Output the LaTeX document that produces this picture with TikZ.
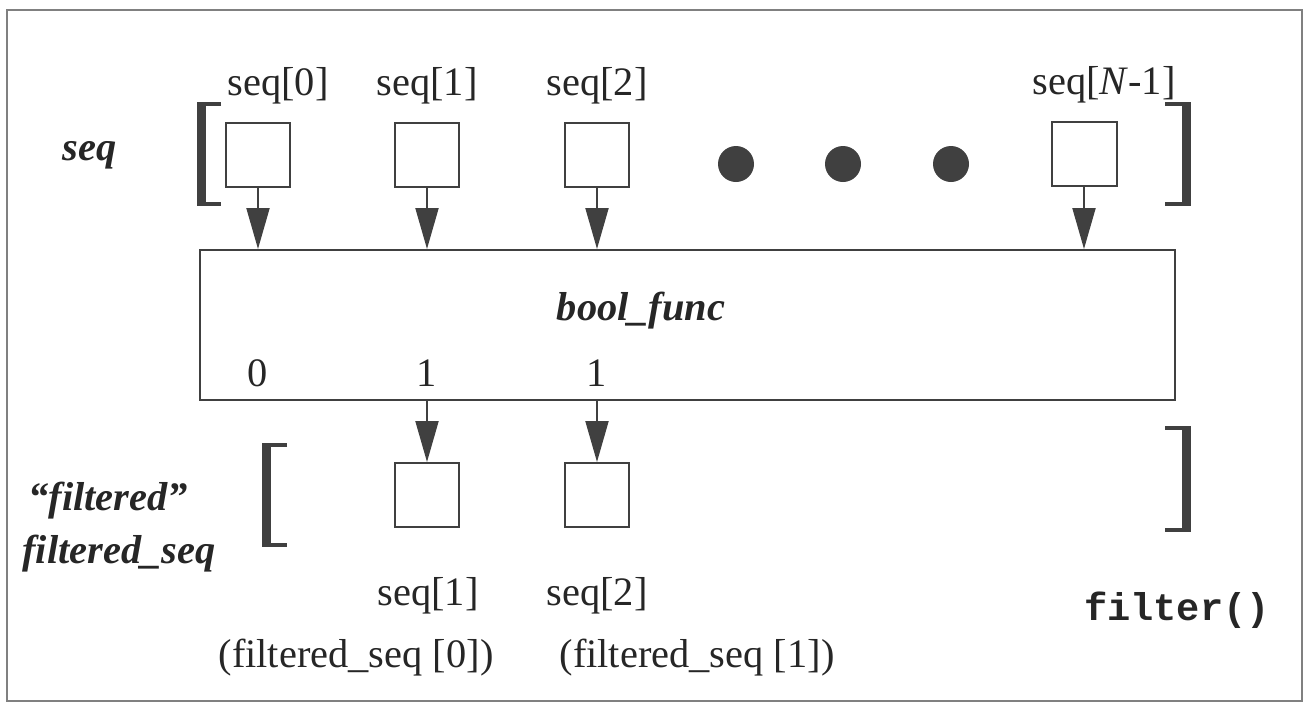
\documentclass[tikz,border=0pt]{standalone}
\usepackage{fontspec}
\setmainfont{Liberation Serif}
\setmonofont{Liberation Mono}
\usetikzlibrary{arrows.meta}

\begin{document}
\begin{tikzpicture}[x=0.02cm,y=-0.02cm]
\tikzstyle{elem}=[rectangle,draw=black!75,line width=0.04cm,minimum width=1.3cm,minimum height=1.28cm,inner sep=0pt]
\tikzstyle{lbl}=[anchor=base,inner sep=0pt,text=black!85,font=\fontsize{23}{27}\selectfont]
\tikzstyle{seqtitle}=[anchor=base west,inner sep=0pt,text=black!85,font=\fontsize{23}{27}\selectfont\bfseries\itshape]
\tikzstyle{arr}=[draw=black!75,line width=0.04cm,-{Triangle[length=0.82cm,width=0.46cm]}]
\tikzstyle{brack}=[draw=black!75,line width=0.18cm]
\tikzstyle{arm}=[draw=black!75,line width=0.08cm]
\tikzstyle{blob}=[circle,fill=black!75,minimum size=0.72cm,inner sep=0pt]
\useasboundingbox (0,0) rectangle (1306,704);
\draw[black!50,line width=0.04cm] (7,10) rectangle (1302,701);
\node [elem] (s0) at (258,155) {};
\node [elem] (s1) at (427,155) {};
\node [elem] (s2) at (597,155) {};
\node [elem] (sn) at (1084,154) {};
\node [blob] (d1) at (736,164) {};
\node [blob] (d2) at (843,164) {};
\node [blob] (d3) at (951,164) {};
\node [lbl] (l0) at (278,95) {seq[0]};
\node [lbl] (l1) at (427,95) {seq[1]};
\node [lbl] (l2) at (597,95) {seq[2]};
\node [lbl] (ln) at (1104,94) {seq[\textit{N}-1]};
\node [seqtitle] (seqname) at (62,160) {seq};
\node [rectangle,draw=black!75,line width=0.04cm,minimum width=19.5cm,minimum height=3cm] (func) at (687.5,325) {};
\node [lbl,font=\fontsize{23}{27}\selectfont\bfseries\itshape] (fname) at (641,320) {bool\_func};
\node [lbl] (o0) at (258,386) {0};
\node [lbl] (o1) at (427,386) {1};
\node [lbl] (o2) at (597,386) {1};
\node [elem] (r1) at (427,495) {};
\node [elem] (r2) at (597,495) {};
\draw [arr] (s0.south) -- (s0.south |- func.north);
\draw [arr] (s1.south) -- (s1.south |- func.north);
\draw [arr] (s2.south) -- (s2.south |- func.north);
\draw [arr] (sn.south) -- (sn.south |- func.north);
\draw [arr] (r1.north |- func.south) -- (r1.north);
\draw [arr] (r2.north |- func.south) -- (r2.north);
\draw [arm] (221,104) -- (201,104) (201,204) -- (221,204);
\draw [brack] (201,102) -- (201,206);
\draw [arm] (1165,104) -- (1186,104) (1186,204) -- (1165,204);
\draw [brack] (1186,102) -- (1186,206);
\draw [arm] (287,445) -- (266,445) (266,545) -- (287,545);
\draw [brack] (266,443) -- (266,547);
\draw [arm] (1165,428) -- (1186,428) (1186,530) -- (1165,530);
\draw [brack] (1186,426) -- (1186,532);
\node [seqtitle] (filt) at (28,510) {“filtered”};
\node [seqtitle] (fseq) at (22,563) {filtered\_seq};
\node [lbl] (b1) at (428,605) {seq[1]};
\node [lbl] (b2) at (597,605) {seq[2]};
\node [lbl] (c1) at (356,667) {(filtered\_seq [0])};
\node [lbl] (c2) at (697,667) {(filtered\_seq [1])};
\node [lbl,font=\fontsize{22}{26}\selectfont\ttfamily\bfseries] (fn) at (1177,620) {filter()};
\end{tikzpicture}
\end{document}
